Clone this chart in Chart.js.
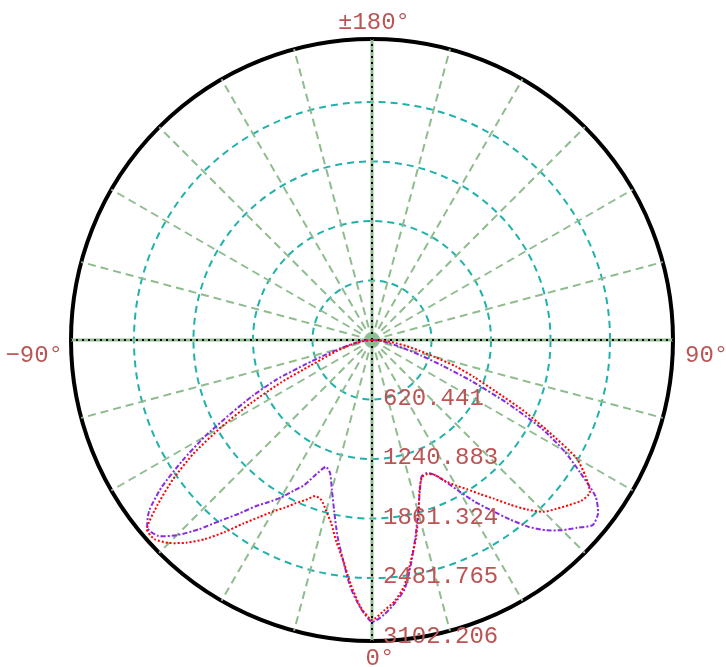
<!DOCTYPE html>
<html>
<head>
<meta charset="utf-8">
<script src="https://cdn.jsdelivr.net/npm/chart.js@4.4.0/dist/chart.umd.min.js"></script>
<style>
  html, body { margin: 0; padding: 0; background: #fff; }
  canvas { display: block; }
</style>
</head>
<body>
<canvas id="polar" width="726" height="667"></canvas>
<script>
// radial rings and their labels
const ringValues = [620.441, 1240.883, 1861.324, 2481.765, 3102.206];
const ringLabels = ['620.441', '1240.883', '1861.324', '2481.765', '3102.206'];
const rMax = 3138;

// angle captions around the circle
const axisAngles = [180, 90, 0, -90];
const axisLabels = ['±180°', '90°', '0°', '−90°'];

// front half, -90..90 deg in 2.5 deg steps (back half is dark)
const frontAngles = [];
for (let a = -90; a <= 90; a += 2.5) frontAngles.push(a);

const redValues = [
  0, 31, 63, 104, 156, 219, 292, 386, 500, 688, 1043, 1418, 1814, 2210, 2533, 2815, 3065,
  3075, 2992, 2867, 2711, 2523, 2335, 2189, 2064, 1970, 1877, 1804, 1731, 1751, 1845, 1960,
  2137, 2314, 2554, 2783, 2919,
  2825, 2731, 2585, 2335, 2116, 1877, 1647, 1522, 1512, 1553, 1658, 1751, 1845, 1960, 2085,
  2241, 2398, 2533, 2606, 2679, 2752, 2773, 2638, 2460, 2085, 1741, 1387, 1136, 917, 667,
  500, 365, 250, 146, 63, 0
];
const purpleValues = [
  0, 31, 73, 125, 177, 250, 344, 500, 730, 1074, 1366, 1658, 2012, 2346, 2679, 2929, 3055,
  3023, 2877, 2679, 2460, 2283, 2116, 2002, 1897, 1772, 1668, 1512, 1407, 1454, 1616, 1824,
  2075, 2314, 2585, 2794, 2940,
  2867, 2752, 2617, 2356, 2095, 1856, 1658, 1512, 1501, 1553, 1668, 1824, 2002, 2168, 2356,
  2544, 2690, 2804, 2898, 3002, 2971, 2846, 2575, 2314, 1991, 1553, 1136, 782, 532, 365,
  250, 177, 125, 73, 31, 0
];

// radar goes clockwise from the top: 180, 177.5 ... 0 ... -177.5
const angles = [];
for (let i = 0; i < 144; i++) angles.push(180 - 2.5 * i);

const toSeries = vals => angles.map(a => {
  const k = frontAngles.indexOf(a);
  return k === -1 ? 0 : vals[k];
});

const textColor = '#bc5454';
const font = '24px "Liberation Mono", monospace';

const polarDecor = {
  id: 'polarDecor',
  beforeDatasetsDraw(chart) {
    const r = chart.scales.r;
    const ctx = chart.ctx;
    ctx.save();
    ctx.strokeStyle = '#000';
    ctx.lineWidth = 2;
    ctx.setLineDash([2, 4]);
    axisAngles.forEach(a => {
      const p = r.getPointPositionForValue(angles.indexOf(a), rMax);
      ctx.beginPath();
      ctx.moveTo(r.xCenter, r.yCenter);
      ctx.lineTo(p.x, p.y);
      ctx.stroke();
    });
    ctx.restore();
  },
  afterDraw(chart) {
    const r = chart.scales.r;
    const ctx = chart.ctx;
    const R = r.drawingArea;
    ctx.save();
    ctx.font = font;
    ctx.fillStyle = textColor;
    ctx.textBaseline = 'alphabetic';

    ctx.textAlign = 'left';
    ringValues.forEach((v, i) => {
      ctx.fillText(ringLabels[i], r.xCenter + 11, r.yCenter + r.getDistanceFromCenterForValue(v) + 5);
    });

    ctx.textAlign = 'center';
    ctx.fillText(axisLabels[0], r.xCenter + 2, r.yCenter - R - 10);
    ctx.fillText(axisLabels[2], r.xCenter + 8, r.yCenter + R + 24);
    ctx.textAlign = 'left';
    ctx.fillText(axisLabels[1], r.xCenter + R + 12, r.yCenter + 22);
    ctx.textAlign = 'right';
    ctx.fillText(axisLabels[3], r.xCenter - R - 8, r.yCenter + 22);
    ctx.restore();
  }
};

const isOuter = c => c.tick && c.tick.value === rMax;

new Chart(document.getElementById('polar'), {
  type: 'radar',
  data: {
    labels: angles,
    datasets: [
      {
        label: 'C0-C180',
        data: toSeries(redValues),
        borderColor: '#ff0000',
        borderWidth: 2,
        borderDash: [2, 2],
        pointRadius: 0,
        fill: false,
        tension: 0.2
      },
      {
        label: 'C90-C270',
        data: toSeries(purpleValues),
        borderColor: '#8a2be2',
        borderWidth: 2,
        borderDash: [5, 2, 2, 2],
        pointRadius: 0,
        fill: false,
        tension: 0.2
      }
    ]
  },
  options: {
    responsive: false,
    animation: false,
    events: [],
    layout: { padding: { left: 71, right: 53, top: 39, bottom: 26 } },
    plugins: { legend: { display: false }, tooltip: { enabled: false } },
    scales: {
      r: {
        min: 0,
        max: rMax,
        startAngle: 0,
        afterBuildTicks: s => {
          s.ticks = [0, ...ringValues.slice(0, 4), rMax].map(v => ({ value: v }));
        },
        ticks: { display: false },
        pointLabels: { display: false },
        grid: {
          circular: true,
          color: c => isOuter(c) ? '#000' : '#20b2aa',
          lineWidth: c => isOuter(c) ? 4 : 2
        },
        border: { dash: c => isOuter(c) ? [] : [7, 5] },
        angleLines: {
          color: c => angles[c.index] % 15 === 0 ? '#8fbc8f' : 'rgba(0,0,0,0)',
          lineWidth: c => angles[c.index] % 15 !== 0 ? 0 : (angles[c.index] % 90 === 0 ? 3 : 2),
          borderDash: c => angles[c.index] % 90 === 0 ? [] : [8, 5]
        }
      }
    }
  },
  plugins: [polarDecor]
});
</script>
</body>
</html>
